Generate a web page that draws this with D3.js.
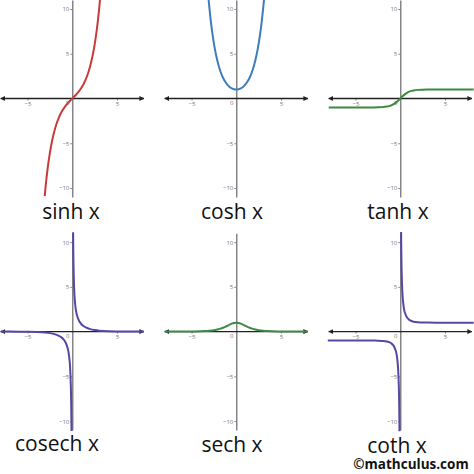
<!DOCTYPE html>
<html>
<head>
<meta charset="utf-8">
<script src="https://cdnjs.cloudflare.com/ajax/libs/d3/7.8.5/d3.min.js"></script>
<style>
  body { margin: 0; background: #fff; }
  svg { display: block; }
</style>
</head>
<body>
<svg id="chart"></svg>
<script>
const width = 474;
const height = 474;

// points, [x, y]
const sinhPoints = [[-3.08, -10.9], [-3, -10.02], [-2.75, -7.79], [-2.5, -6.05], [-2.25, -4.69], [-2, -3.63],
  [-1.75, -2.79], [-1.5, -2.13], [-1.25, -1.6], [-1, -1.18], [-0.75, -0.82], [-0.5, -0.52], [-0.25, -0.25], [0, 0],
  [0.25, 0.25], [0.5, 0.52], [0.75, 0.82], [1, 1.18], [1.25, 1.6], [1.5, 2.13], [1.75, 2.79], [2, 3.63],
  [2.25, 4.69], [2.5, 6.05], [2.75, 7.79], [3, 10.02], [3.1, 11.1]];
const coshPoints = [[-3.1, 11.1], [-3, 10.07], [-2.75, 7.85], [-2.5, 6.13], [-2.25, 4.8], [-2, 3.76], [-1.75, 2.96],
  [-1.5, 2.35], [-1.25, 1.89], [-1, 1.54], [-0.75, 1.29], [-0.5, 1.13], [-0.25, 1.03], [0, 1],
  [0.25, 1.03], [0.5, 1.13], [0.75, 1.29], [1, 1.54], [1.25, 1.89], [1.5, 2.35], [1.75, 2.96], [2, 3.76],
  [2.25, 4.8], [2.5, 6.13], [2.75, 7.85], [3, 10.07], [3.1, 11.1]];
const tanhPoints = [[-8, -1], [-4, -1], [-3, -0.995], [-2.5, -0.987], [-2, -0.964], [-1.5, -0.905], [-1.25, -0.848],
  [-1, -0.762], [-0.75, -0.635], [-0.5, -0.462], [-0.25, -0.245], [0, 0], [0.25, 0.245], [0.5, 0.462],
  [0.75, 0.635], [1, 0.762], [1.25, 0.848], [1.5, 0.905], [2, 0.964], [2.5, 0.987], [3, 0.995], [4, 1], [8.2, 1]];
const cosechNeg = [[-8, -0.001], [-6, -0.005], [-5, -0.013], [-4, -0.037], [-3, -0.1], [-2.5, -0.17], [-2, -0.28],
  [-1.5, -0.47], [-1.25, -0.62], [-1, -0.85], [-0.75, -1.22], [-0.5, -1.92], [-0.4, -2.43], [-0.3, -3.28],
  [-0.25, -3.96], [-0.2, -4.97], [-0.15, -6.64], [-0.125, -7.98], [-0.1, -9.98], [-0.09, -11.1]];
const cosechPos = [[0.09, 11.1], [0.1, 9.98], [0.125, 7.98], [0.15, 6.64], [0.2, 4.97], [0.25, 3.96], [0.3, 3.28],
  [0.4, 2.43], [0.5, 1.92], [0.75, 1.22], [1, 0.85], [1.25, 0.62], [1.5, 0.47], [2, 0.28], [2.5, 0.17],
  [3, 0.1], [4, 0.037], [5, 0.013], [6, 0.005], [8, 0.001]];
const sechPoints = [[-8, 0.001], [-6, 0.005], [-5, 0.013], [-4, 0.037], [-3.5, 0.06], [-3, 0.099], [-2.5, 0.163],
  [-2, 0.266], [-1.75, 0.336], [-1.5, 0.425], [-1.25, 0.529], [-1, 0.648], [-0.75, 0.772], [-0.5, 0.887],
  [-0.25, 0.97], [0, 1], [0.25, 0.97], [0.5, 0.887], [0.75, 0.772], [1, 0.648], [1.25, 0.529], [1.5, 0.425],
  [1.75, 0.336], [2, 0.266], [2.5, 0.163], [3, 0.099], [3.5, 0.06], [4, 0.037], [5, 0.013], [6, 0.005], [8, 0.001]];
const cothNeg = [[-8.1, -1], [-4, -1.001], [-3, -1.005], [-2.5, -1.01], [-2, -1.04], [-1.5, -1.1], [-1.25, -1.18],
  [-1, -1.31], [-0.75, -1.57], [-0.5, -2.16], [-0.4, -2.63], [-0.3, -3.43], [-0.25, -4.08], [-0.2, -5.07],
  [-0.15, -6.72], [-0.125, -8.04], [-0.1, -10.03], [-0.09, -11.14]];
const cothPos = [[0.09, 11.14], [0.1, 10.03], [0.125, 8.04], [0.15, 6.72], [0.2, 5.07], [0.25, 4.08], [0.3, 3.43],
  [0.4, 2.63], [0.5, 2.16], [0.75, 1.57], [1, 1.31], [1.25, 1.18], [1.5, 1.1], [2, 1.04], [2.5, 1.01],
  [3, 1.005], [4, 1.001], [8.2, 1]];

const titles = ["sinh x", "cosh x", "tanh x", "cosech x", "sech x", "coth x"];
const colors = ["#c73b3b", "#3d7dbd", "#3b8a3e", "#5647a6", "#3b8a4a", "#5647a6"];
const curves = [[sinhPoints], [coshPoints], [tanhPoints], [cosechNeg, cosechPos], [sechPoints], [cothNeg, cothPos]];
const yTicks = [-10, -5, 5, 10];
const xTicks = [-5, 5];

const originX = [72.3, 236.3, 400.3];
const originY = [98.5, 331.6];
const unit = 8.95;
const titlePos = [[71, 219], [232, 219], [398, 219], [57, 451], [232, 452], [397, 453]];

const svg = d3.select("#chart")
    .attr("width", width)
    .attr("height", height);

const defs = svg.append("defs");
defs.append("marker")
    .attr("id", "arrow")
    .attr("viewBox", "0 0 10 10")
    .attr("refX", 9).attr("refY", 5)
    .attr("markerWidth", 5).attr("markerHeight", 5)
    .attr("markerUnits", "userSpaceOnUse")
    .attr("orient", "auto-start-reverse")
    .append("path")
    .attr("d", "M0,0 L10,5 L0,10 Z")
    .attr("fill", "#222");

titles.forEach((title, i) => {
    const col = i % 3, row = Math.floor(i / 3);
    const ox = originX[col], oy = originY[row];
    const x = d3.scaleLinear().domain([-8, 8]).range([ox - 8 * unit, ox + 8 * unit]);
    const y = d3.scaleLinear().domain([-11, 11]).range([oy + 11 * unit, oy - 11 * unit]);
    const g = svg.append("g");

    // y axis
    const yAxis = g.append("g")
        .attr("transform", `translate(${ox},0)`)
        .call(d3.axisLeft(y).tickValues(yTicks).tickSize(2).tickSizeOuter(0).tickPadding(1));
    yAxis.select(".domain").attr("stroke", "#666").attr("stroke-width", 1.2);
    yAxis.selectAll(".tick line").attr("stroke", "#888");
    yAxis.selectAll(".tick text").attr("fill", "#777").style("font", "6px 'Open Sans', sans-serif");

    // x axis
    const xAxis = g.append("g")
        .attr("transform", `translate(0,${oy})`)
        .call(d3.axisBottom(x).tickValues(xTicks).tickSize(2).tickSizeOuter(0).tickPadding(1));
    xAxis.select(".domain").remove();
    xAxis.selectAll(".tick line").attr("stroke", "#888");
    xAxis.selectAll(".tick text").attr("fill", "#777").style("font", "6px 'Open Sans', sans-serif");

    g.append("text")
        .attr("x", x(-0.5)).attr("y", y(-0.75))
        .attr("text-anchor", "middle")
        .attr("fill", "#777")
        .style("font", "6px 'Open Sans', sans-serif")
        .text("0");

    g.append("line")
        .attr("x1", x(-8)).attr("x2", x(8))
        .attr("y1", oy).attr("y2", oy)
        .attr("stroke", "#222").attr("stroke-width", 1.3)
        .attr("marker-start", "url(#arrow)")
        .attr("marker-end", "url(#arrow)");

    const line = d3.line()
        .x(d => x(d[0]))
        .y(d => y(d[1]))
        .curve(d3.curveCatmullRom);

    curves[i].forEach(pts => {
        g.append("path")
            .datum(pts)
            .attr("d", line)
            .attr("fill", "none")
            .attr("stroke", colors[i])
            .attr("stroke-width", 2);
    });

    svg.append("text")
        .attr("x", titlePos[i][0]).attr("y", titlePos[i][1])
        .attr("text-anchor", "middle")
        .attr("fill", "#111")
        .style("font", "21px 'Open Sans', sans-serif")
        .text(title);
});

svg.append("text")
    .attr("x", 411).attr("y", 469)
    .attr("text-anchor", "middle")
    .attr("fill", "#111")
    .style("font", "bold 13.5px 'Open Sans', sans-serif")
    .text("\u00A9mathculus.com");
</script>
</body>
</html>
